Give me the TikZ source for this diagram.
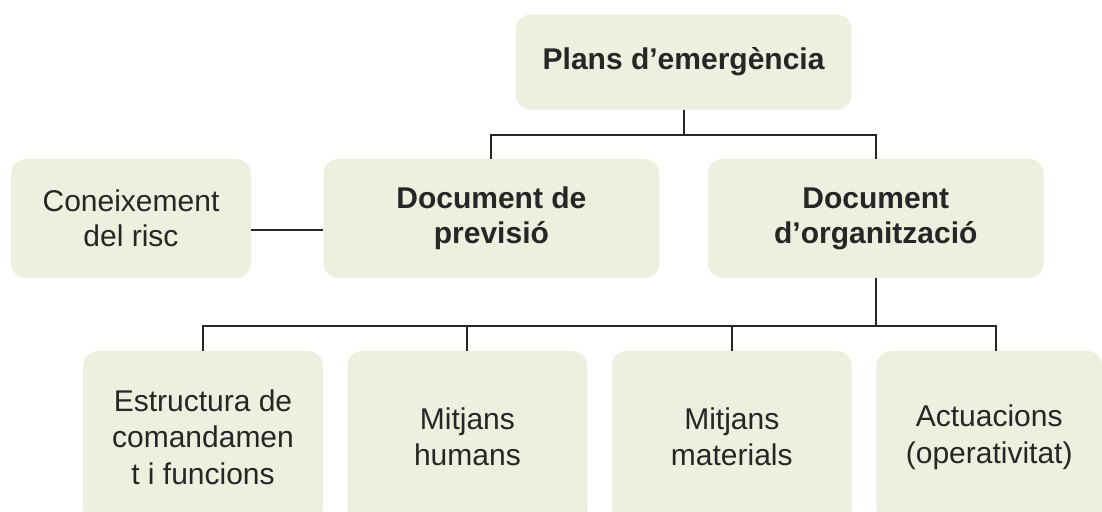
\documentclass[tikz,border=0pt]{standalone}
\usepackage{fontspec}
\setmainfont{Liberation Sans}
\usetikzlibrary{positioning,calc}
\definecolor{boxfill}{HTML}{EBF1DE}
\definecolor{ink}{HTML}{262626}
\tikzstyle{block}=[fill=boxfill, rounded corners=15pt, align=center, text=ink, inner sep=0pt, font=\fontsize{30}{35}\selectfont]
\tikzstyle{wide}=[block, minimum width=336pt, minimum height=119pt, font=\fontsize{30}{35}\selectfont\bfseries]
\tikzstyle{small}=[block, minimum width=240pt, minimum height=119pt]
\tikzstyle{leaf}=[block, minimum width=240pt, minimum height=172pt, font=\fontsize{30}{36.5}\selectfont]
\tikzstyle{link}=[draw=ink, line width=2pt]

\begin{document}
\begin{tikzpicture}[x=1pt,y=-1pt,node distance=24pt]
    \useasboundingbox (0,0) rectangle (1102,511);
    \node (risc) [small] at (131,218.5) {Coneixement\\del risc};
    \node (prev) [wide, right=72pt of risc] {Document de\\previsió};
    \node (org) [wide, right=48pt of prev] {Document\\d’organització};
    \coordinate (mid) at ($(prev.north)!0.5!(org.north)$);
    \node (plans) [wide, minimum height=95pt, above=49pt of mid] {Plans d’emergència};
    \node (estr) [leaf] at (203,437) {Estructura de\\comandamen\\t i funcions};
    \node (hum) [leaf, right=of estr] {Mitjans\\humans};
    \node (mat) [leaf, right=of hum] {Mitjans\\materials};
    \node (act) [leaf, minimum width=226pt, right=of mat] {Actuacions\\(operativitat)};
    % tree lines
    \draw[link] (plans.south) -- ++(0,25) -| (prev.north);
    \draw[link] (plans.south) -- ++(0,25) -| (org.north);
    \draw[link] ([yshift=-11.5pt]risc.east) coordinate (rl) -- (rl -| prev.west);
    \foreach \n in {estr,hum,mat}
        \draw[link] (org.south) -- ++(0,48) -| (\n.north);
    \draw[link] (org.south) -- ++(0,48) -| ([xshift=7pt]act.north);
\end{tikzpicture}
\end{document}
